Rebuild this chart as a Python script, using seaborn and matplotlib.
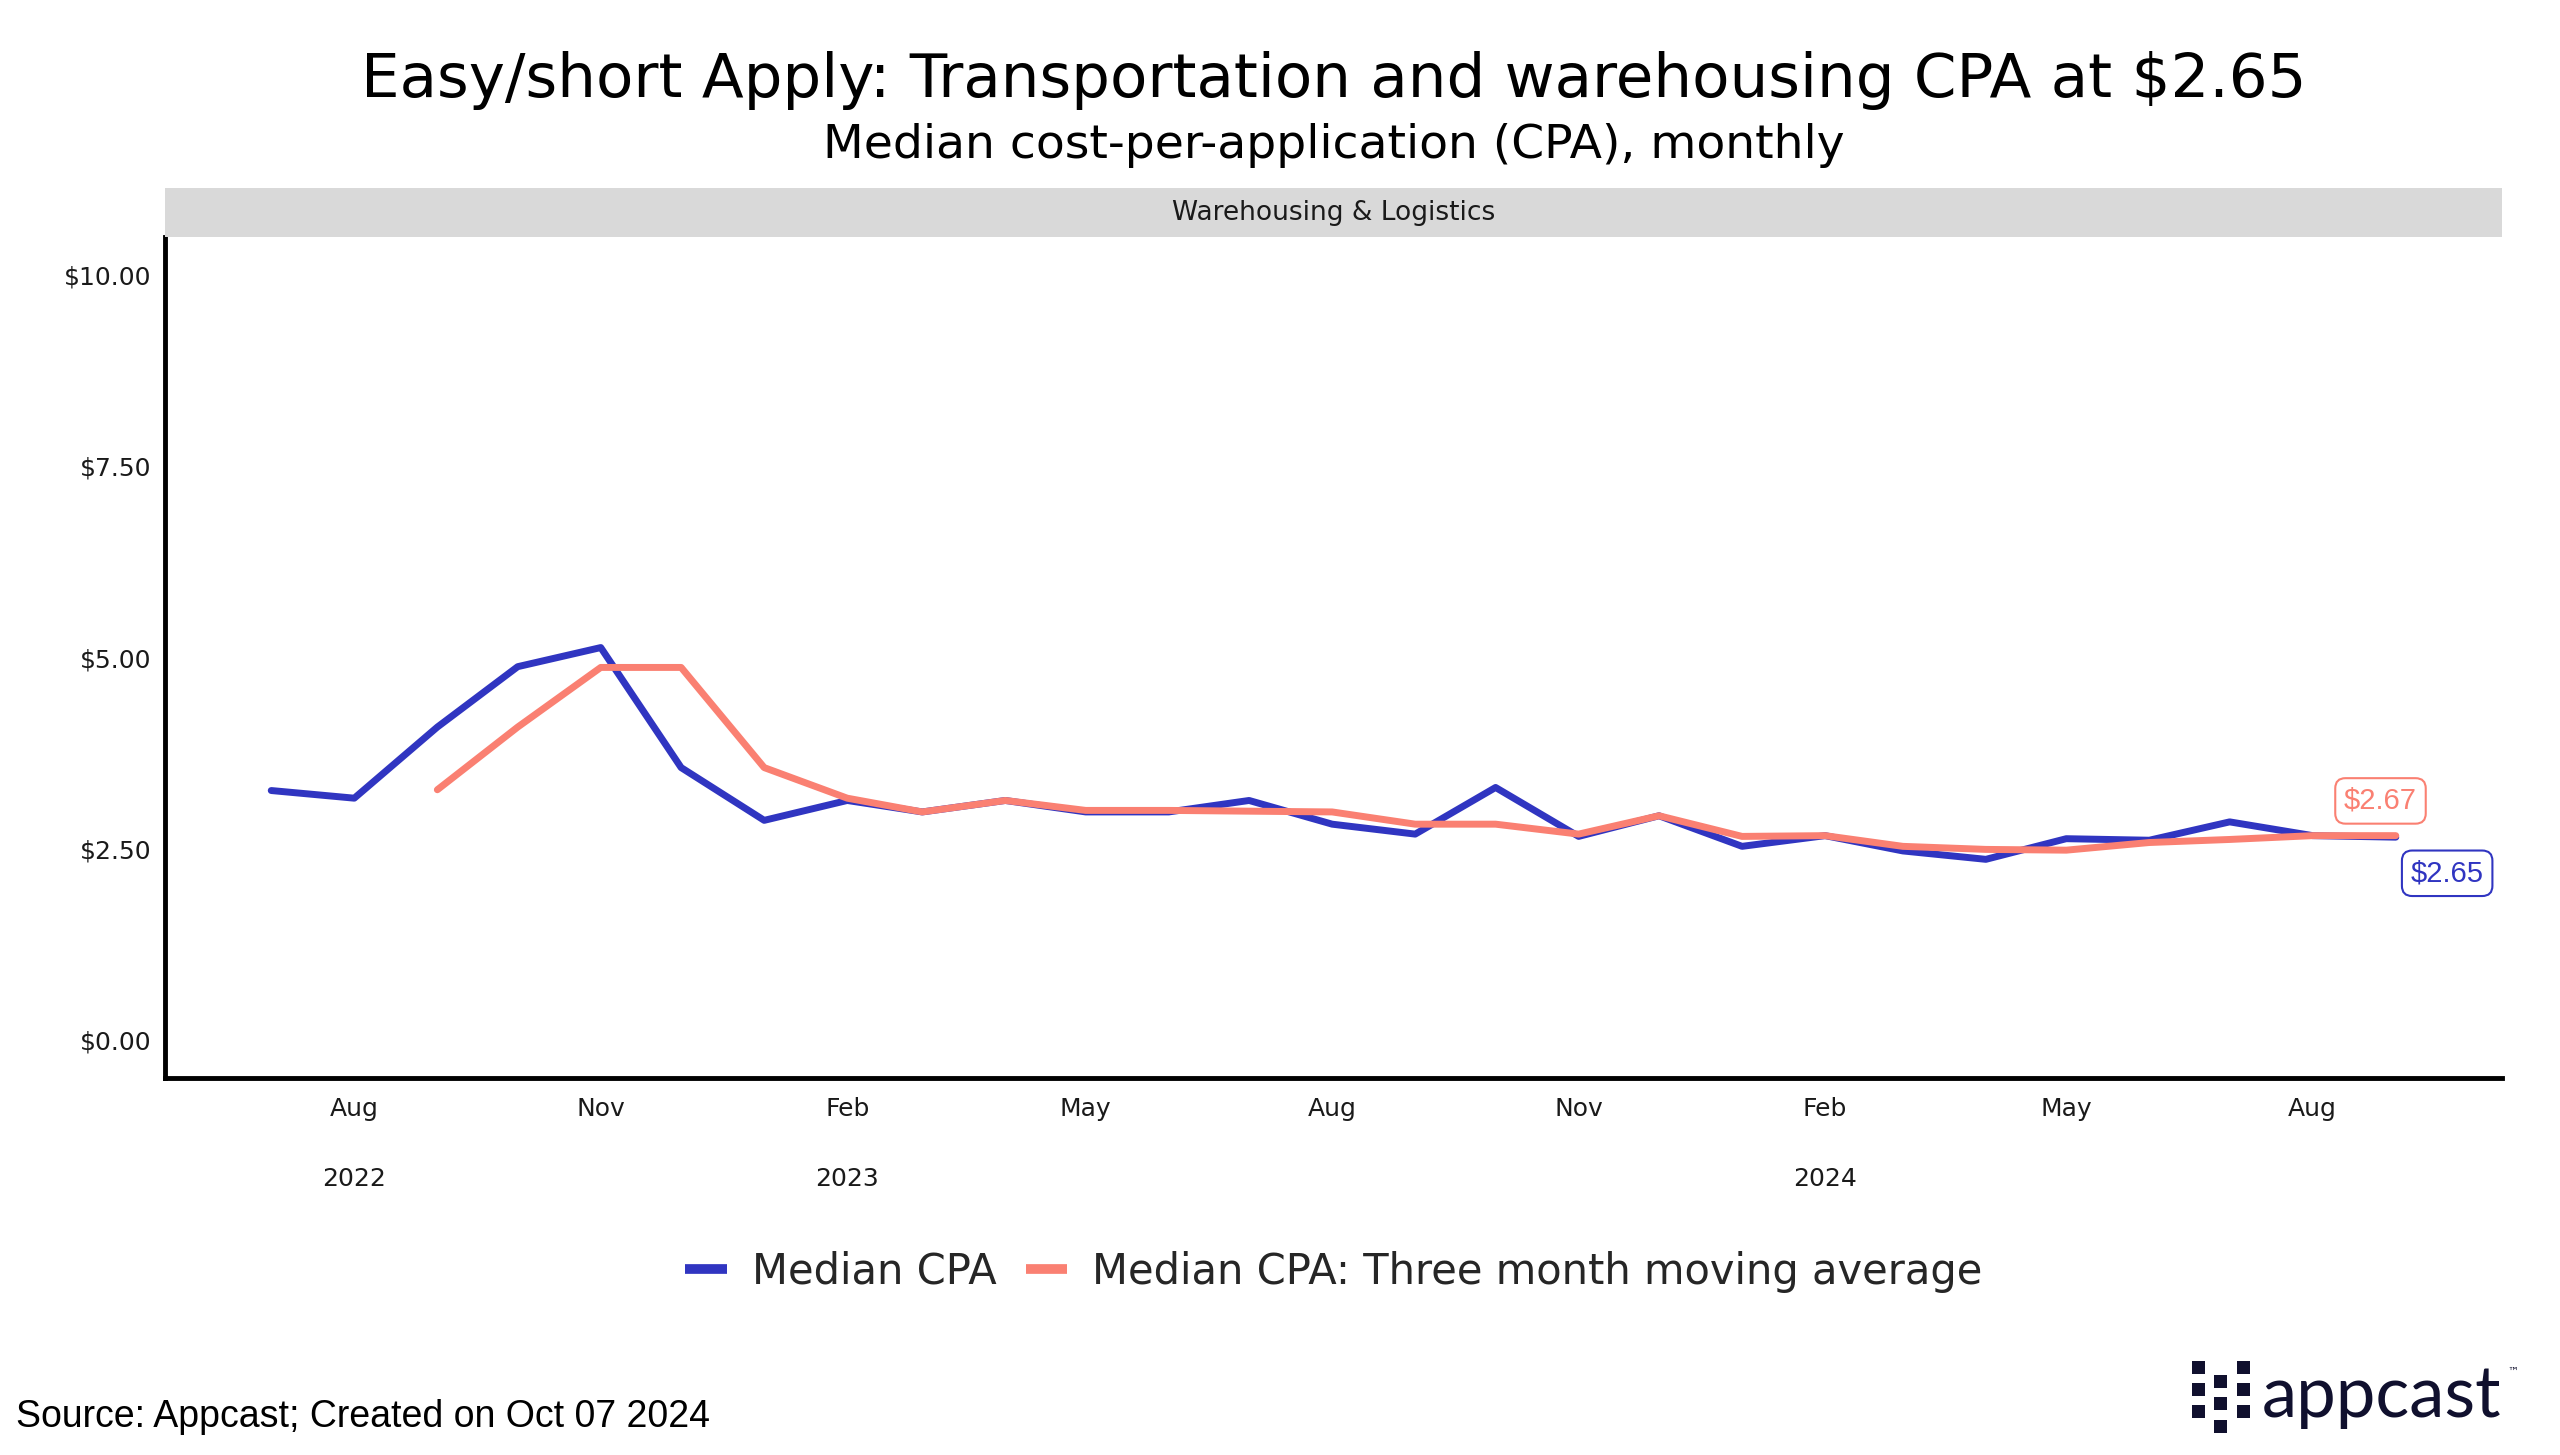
import numpy as np
import pandas as pd
import matplotlib
matplotlib.use("Agg")
import matplotlib.pyplot as plt
import matplotlib.dates as mdates
from matplotlib.lines import Line2D
from matplotlib.patches import Rectangle
import seaborn as sns

# ---------------- data ----------------
months = ["2022-07", "2022-08", "2022-09", "2022-10", "2022-11", "2022-12",
          "2023-01", "2023-02", "2023-03", "2023-04", "2023-05", "2023-06",
          "2023-07", "2023-08", "2023-09", "2023-10", "2023-11", "2023-12",
          "2024-01", "2024-02", "2024-03", "2024-04", "2024-05", "2024-06",
          "2024-07", "2024-08", "2024-09"]
median_cpa = [3.26, 3.16, 4.09, 4.88, 5.13, 3.56,
              2.87, 3.13, 2.98, 3.13, 2.98, 2.98,
              3.13, 2.82, 2.69, 3.30, 2.66, 2.93,
              2.53, 2.67, 2.47, 2.36, 2.63, 2.61,
              2.85, 2.67, 2.65]
moving_avg = [np.nan, np.nan, 3.27, 4.09, 4.87, 4.87,
              3.56, 3.16, 2.98, 3.13, 3.00, 3.00,
              2.99, 2.98, 2.82, 2.82, 2.69, 2.93,
              2.66, 2.67, 2.53, 2.49, 2.48, 2.58,
              2.62, 2.67, 2.67]
series_names = ["Median CPA", "Median CPA: Three month moving average"]
series_colors = ["#3035C1", "#FA8072"]
y_ticks = [0, 2.5, 5, 7.5, 10]
y_tick_labels = ["$0.00", "$2.50", "$5.00", "$7.50", "$10.00"]
panel_label = "Warehousing & Logistics"
title = "Easy/short Apply: Transportation and warehousing CPA at $2.65"
subtitle = "Median cost-per-application (CPA), monthly"
source = "Source: Appcast; Created on Oct 07 2024"

# ---------------- style ----------------
sns.set_theme(style="white")
plt.rcParams['font.family'] = ['DejaVu Sans']

df = pd.DataFrame({"month": pd.to_datetime(months),
                   series_names[0]: median_cpa,
                   series_names[1]: moving_avg})
long = df.melt(id_vars="month", var_name="series", value_name="cpa").dropna()

W, H = 2560, 1455
fig = plt.figure(figsize=(W / 100, H / 100), dpi=100)
fig.patch.set_facecolor("white")

ax_l, ax_r, ax_t, ax_b = 165, 2502, 237, 1078
ax = fig.add_axes([ax_l / W, 1 - ax_b / H, (ax_r - ax_l) / W, (ax_b - ax_t) / H])

sns.lineplot(data=long, x="month", y="cpa", hue="series", hue_order=series_names,
             palette=dict(zip(series_names, series_colors)), linewidth=5,
             ax=ax, legend=False)

start, end = df["month"].iloc[0], df["month"].iloc[-1]
pad = (end - start) * 0.05
ax.set_xlim(start - pad, end + pad)
ax.set_ylim(-0.5, 10.5)
ax.set_yticks(y_ticks)
ax.set_yticklabels(y_tick_labels)
ax.xaxis.set_major_locator(mdates.MonthLocator(bymonth=[2, 5, 8, 11]))
ax.xaxis.set_major_formatter(mdates.DateFormatter("%b"))
ax.set_xlabel("")
ax.set_ylabel("")
ax.grid(False)

for s in ["top", "right"]:
    ax.spines[s].set_visible(False)
for s in ["left", "bottom"]:
    ax.spines[s].set_linewidth(3.5)
    ax.spines[s].set_color("black")
ax.tick_params(axis="both", which="major", length=7, width=2.5, color="black",
               direction="out", labelsize=18, labelcolor="#1a1a1a")
ax.tick_params(axis="x", pad=7)
ax.tick_params(axis="y", pad=3)

# year labels under first tick and at year changes
fig.canvas.draw()
prev_year = None
for t in ax.get_xticks():
    d = mdates.num2date(t)
    if start - pad <= pd.Timestamp(d.replace(tzinfo=None)) <= end + pad:
        if d.year != prev_year:
            ax.text(t, -0.12, str(d.year), transform=ax.get_xaxis_transform(),
                    ha="center", va="center", fontsize=18, color="#1a1a1a")
            prev_year = d.year

# end-of-line labels
last = df.iloc[-1]
ax.annotate(f"${last[series_names[1]]:.2f}", xy=(last["month"], last[series_names[1]]),
            xytext=(-11, 25), textcoords="offset points", ha="center", va="center",
            fontsize=21, family="Liberation Sans", color=series_colors[1],
            bbox=dict(boxstyle="round,pad=0.3,rounding_size=0.35", fc="white",
                      ec=series_colors[1], lw=1.5))
ax.annotate(f"${last[series_names[0]]:.2f}", xy=(last["month"], last[series_names[0]]),
            xytext=(37, -26), textcoords="offset points", ha="center", va="center",
            fontsize=21, family="Liberation Sans", color=series_colors[0],
            bbox=dict(boxstyle="round,pad=0.3,rounding_size=0.35", fc="white",
                      ec=series_colors[0], lw=1.5))

# facet strip
strip_top = 188
fig.patches.append(Rectangle((ax_l / W, 1 - ax_t / H), (ax_r - ax_l) / W,
                             (ax_t - strip_top) / H, transform=fig.transFigure,
                             facecolor="#D9D9D9", edgecolor="none", zorder=0))
fig.text((ax_l + ax_r) / 2 / W, 1 - (ax_t + strip_top) / 2 / H, panel_label,
         ha="center", va="center", fontsize=19, color="#1a1a1a")

# titles
fig.text((ax_l + ax_r) / 2 / W, 1 - 80 / H, title, ha="center", va="center",
         fontsize=44, color="black")
fig.text((ax_l + ax_r) / 2 / W, 1 - 145 / H, subtitle, ha="center", va="center",
         fontsize=34, color="black")

# legend
handles = [Line2D([0], [0], color=c, lw=7, solid_capstyle="butt") for c in series_colors]
fig.legend(handles, series_names, loc="center", bbox_to_anchor=(1334 / W, 1 - 1272 / H),
           ncol=2, frameon=False, fontsize=30, handlelength=1.0, handletextpad=0.6,
           columnspacing=0.7)

# source caption
fig.text(16 / W, 1 - 1417 / H, source, ha="left", va="center", fontsize=27,
         family="Liberation Sans", color="black")

# appcast logo
navy = "#10102E"
sq = 13
col_x = [2192, 2214, 2237]
rows_a = [1361, 1383, 1405]
rows_b = [1375, 1397, 1420]
for i, cx in enumerate(col_x):
    rows = rows_b if i == 1 else rows_a
    for ry in rows:
        fig.patches.append(Rectangle((cx / W, 1 - (ry + sq) / H), sq / W, sq / H,
                                     transform=fig.transFigure, facecolor=navy,
                                     edgecolor="none"))
fig.text(2262 / W, 1 - 1417 / H, "appcast", ha="left", va="baseline", fontsize=51,
         family="Lato", color=navy)
fig.text(2507 / W, 1 - 1372 / H, "\u2122", ha="left", va="center", fontsize=8,
         family="DejaVu Sans", color=navy)

fig.savefig("out.png", dpi=100, facecolor="white")
